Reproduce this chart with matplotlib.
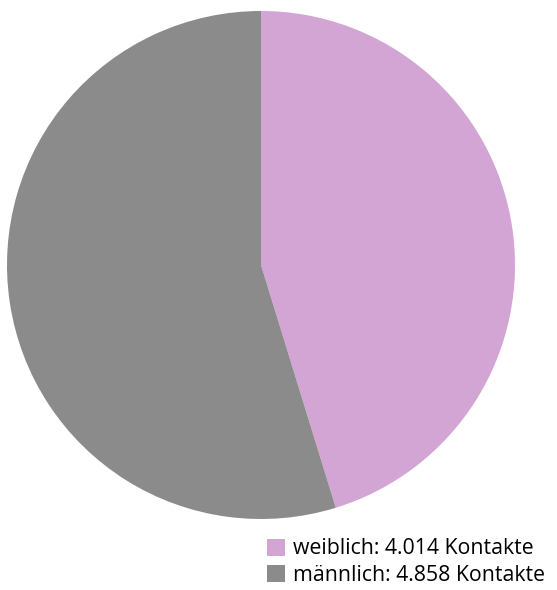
import matplotlib.pyplot as plt
from matplotlib.patches import Patch

labels = ["weiblich", "männlich"]
contacts = [4014, 4858]
colors = ["#d3a5d4", "#8b8b8b"]

W, H = 557, 590
fig = plt.figure(figsize=(W / 100, H / 100), dpi=100)

# Pie area in pixel coordinates (left, bottom, size)
left, bottom, size = 7, 590 - 519, 508
ax = fig.add_axes([left / W, bottom / H, size / W, size / H])
ax.pie(
    contacts,
    colors=colors,
    startangle=90,
    counterclock=False,
    radius=1,
    wedgeprops={"linewidth": 0},
)
ax.set_xlim(-1, 1)
ax.set_ylim(-1, 1)
ax.set_aspect("equal")
ax.axis("off")


def fmt(n):
    return f"{n:,}".replace(",", ".")


handles = [Patch(facecolor=c, edgecolor="none") for c in colors]
texts = [f"{lab}: {fmt(n)} Kontakte" for lab, n in zip(labels, contacts)]
fig.legend(
    handles,
    texts,
    loc="upper left",
    bbox_to_anchor=(258 / W, 1 - 530 / H),
    frameon=False,
    prop={"family": "Open Sans", "size": 15.3},
    handlelength=0.85,
    handleheight=0.85,
    handletextpad=0.4,
    labelspacing=0.25,
    borderaxespad=0,
)

fig.savefig("out.png", dpi=100)
